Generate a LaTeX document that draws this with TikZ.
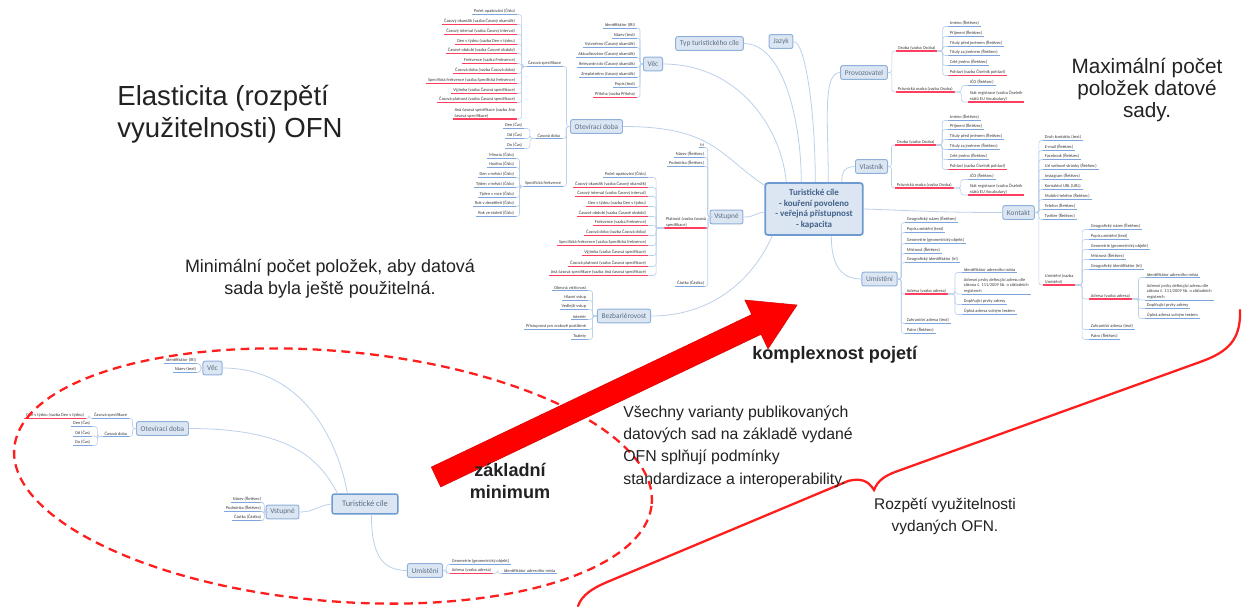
\documentclass[tikz,border=0pt]{standalone}
\usepackage{fontspec}
\setmainfont{Liberation Sans}
\newfontfamily\mm{Carlito}
\usetikzlibrary{calc}
\definecolor{boxf}{HTML}{DCE6F2}
\definecolor{boxb}{HTML}{8EB0DA}
\definecolor{boxt}{HTML}{5A6E86}
\definecolor{ctrb}{HTML}{6D9BD1}
\definecolor{ctrt}{HTML}{42618A}
\definecolor{lnkc}{HTML}{BCD0EA}
\definecolor{ulb}{HTML}{7EA6DC}
\definecolor{ulr}{HTML}{FF3D5E}
\definecolor{leaft}{HTML}{3A3A3A}
\definecolor{bigt}{HTML}{222222}
\definecolor{redm}{HTML}{FF1E1E}

% leaf growing to the left: name, right end x, underline y, text, underline style, parent anchor
\newcommand\leafL[6]{%
  \node[leaf,anchor=south east] (#1) at (#2,#3) {#4};
  \draw[#5] (#1.south west) -- (#1.south east);
  \draw[lnk] let \p1=(#6), \p2=(#1.south east) in
    (\p1) -- ({(\x1+\x2)/2},\y1) -- ({(\x1+\x2)/2},\y2) -- (\p2);}
% leaf growing to the right: name, left end x, underline y, text, underline style, parent anchor
\newcommand\leafR[6]{%
  \node[leaf,anchor=south west] (#1) at (#2,#3) {#4};
  \draw[#5] (#1.south west) -- (#1.south east);
  \draw[lnk] let \p1=(#6), \p2=(#1.south west) in
    (\p1) -- ({(\x1+\x2)/2},\y1) -- ({(\x1+\x2)/2},\y2) -- (\p2);}

\begin{document}
\begin{tikzpicture}[x=0.02cm,y=-0.02cm,
  box/.style={draw=boxb, fill=boxf, rounded corners=1.2pt, line width=0.55pt,
    font=\mm\fontsize{4.2pt}{5pt}\selectfont, text=boxt, inner xsep=2.4pt,
    inner ysep=0pt, minimum height=7.9pt},
  ctrbox/.style={draw=ctrb, fill=boxf, rounded corners=1.5pt, line width=1pt,
    font=\mm\bfseries\fontsize{5.1pt}{6pt}\selectfont, text=ctrt, align=center,
    minimum width=55.6pt, minimum height=29.5pt},
  leaf/.style={font=\mm\fontsize{2.5pt}{3.1pt}\selectfont, text=leaft,
    inner xsep=0.9pt, inner ysep=0.5pt, align=left},
  lnk/.style={draw=lnkc, line width=0.35pt, rounded corners=1.5pt},
  lnkm/.style={draw=lnkc, line width=0.45pt},
  ub/.style={draw=ulb, line width=0.55pt},
  ur/.style={draw=ulr, line width=0.6pt},
  bigtext/.style={text=bigt, inner sep=0pt},
]
\useasboundingbox (0,0) rectangle (1243,613);
\fill[white] (0,0) rectangle (1243,613);

% ---------------- large mind map ----------------
\node[ctrbox] (ctr) at (814,209) {Turistické cíle\\- kouření povoleno\\- veřejná přístupnost\\- kapacita};
\node[box] (vec)   at (653,64)    {Věc};
\node[box] (typ)   at (709.5,43.5) {Typ turistického cíle};
\node[box] (jaz)   at (781,41.5)  {Jazyk};
\node[box] (prov)  at (864,72.5)  {Provozovatel};
\node[box] (otev)  at (596.5,126.5) {Otevírací doba};
\node[box] (vlas)  at (871.5,166.5) {Vlastník};
\node[box] (vstup) at (726.5,217) {Vstupné};
\node[box] (kont)  at (1018.5,212.5) {Kontakt};
\node[box] (umis)  at (879.5,279) {Umístění};
\node[box] (bezb)  at (624,316)   {Bezbariérovost};

\draw[lnkm] (vec.east) .. controls +(75,0) and +(-5,-55) .. ($(ctr.north west)+(22,0)$);
\draw[lnkm] (typ.east) .. controls +(40,0) and +(0,-60) .. ($(ctr.north west)+(37,0)$);
\draw[lnkm] (jaz.east) .. controls +(12,0) and +(0,-70) .. ($(ctr.north west)+(51,0)$);
\draw[lnkm] (prov.west) .. controls +(-18,0) and +(0,-60) .. ($(ctr.north west)+(64,0)$);
\draw[lnkm] (otev.east) .. controls +(90,0) and +(-45,-30) .. ($(ctr.north west)+(0,3)$);
\draw[lnkm] (vstup.east) .. controls +(12,0) and +(-12,2) .. ($(ctr.west)+(0,3)$);
\draw[lnkm] (vlas.west) .. controls +(-12,0) and +(0,-8) .. ($(ctr.north east)+(-22,0)$);
\draw[lnkm] (ctr.east) .. controls +(60,2) and +(-60,0) .. (kont.west);
\draw[lnkm] ($(ctr.south west)+(67,0)$) .. controls +(0,30) and +(-20,0) .. (umis.west);
\draw[lnkm] ($(ctr.south west)+(8,0)$) .. controls +(-20,45) and +(60,0) .. (bezb.east);

% Věc
\leafL{v1}{637}{28}{Identifikátor (IRI)}{ub}{vec.west}
\leafL{v2}{637}{38}{Název (text)}{ub}{vec.west}
\leafL{v3}{637}{47.5}{Vytvořeno (Časový okamžik)}{ub}{vec.west}
\leafL{v4}{637}{57.5}{Aktualizováno (Časový okamžik)}{ub}{vec.west}
\leafL{v5}{637}{67.5}{Relevantní do (Časový okamžik)}{ub}{vec.west}
\leafL{v6}{637}{77.5}{Zneplatněno (časový okamžik)}{ub}{vec.west}
\leafL{v7}{637}{87.5}{Popis (text)}{ub}{vec.west}
\leafL{v8}{637}{97.5}{Příloha (vazba Příloha)}{ur}{vec.west}

% Otevírací doba
\leafL{cs}{563}{66.5}{Časová specifikace}{ub}{otev.west}
\leafL{cd}{562}{138.5}{Časová doba}{ub}{otev.west}
\leafL{sf}{563}{186.5}{Specifická frekvence}{ub}{otev.west}

\leafL{cs1}{517}{14.5}{Počet opakování (Číslo)}{ub}{cs.south west}
\leafL{cs2}{517}{24.5}{Časový okamžik (vazba Časový okamžik)}{ur}{cs.south west}
\leafL{cs3}{517}{34.5}{Časový interval (vazba Časový interval)}{ur}{cs.south west}
\leafL{cs4}{517}{44.5}{Den v týdnu (vazba Den v týdnu)}{ur}{cs.south west}
\leafL{cs5}{517}{53.5}{Časové období (vazba Časové období)}{ur}{cs.south west}
\leafL{cs6}{517}{63.5}{Frekvence (vazba Frekvence)}{ur}{cs.south west}
\leafL{cs7}{517}{73.5}{Časová doba (vazba Časová doba)}{ur}{cs.south west}
\leafL{cs8}{517}{83.5}{Specifická frekvence (vazba Specifická frekvence)}{ur}{cs.south west}
\leafL{cs9}{517}{93.5}{Výjimka (vazba Časová specifikace)}{ur}{cs.south west}
\leafL{cs10}{517}{102.5}{Časová platnost (vazba Časová specifikace)}{ur}{cs.south west}
\leafL{cs11}{517}{119}{Jiná časová specifikace (vazba Jiná\\časová specifikace)}{ur}{cs.south west}

\leafL{cd1}{524}{128.5}{Den (Čas)}{ub}{cd.south west}
\leafL{cd2}{524}{138.5}{Od (Čas)}{ub}{cd.south west}
\leafL{cd3}{524}{148.5}{Do (Čas)}{ub}{cd.south west}

\leafL{sf1}{516}{158.5}{Minuta (Číslo)}{ub}{sf.south west}
\leafL{sf2}{516}{167.5}{Hodina (Číslo)}{ub}{sf.south west}
\leafL{sf3}{516}{177.5}{Den v měsíci (Číslo)}{ub}{sf.south west}
\leafL{sf4}{516}{187.5}{Týden v měsíci (Číslo)}{ub}{sf.south west}
\leafL{sf5}{516}{197.5}{Týden v roce (Číslo)}{ub}{sf.south west}
\leafL{sf6}{516}{206.5}{Rok v desetiletí (Číslo)}{ub}{sf.south west}
\leafL{sf7}{516}{216.5}{Rok ve století (Číslo)}{ub}{sf.south west}

% Vstupné
\leafL{vs0}{706}{147.5}{Iri}{ub}{vstup.west}
\leafL{vs1}{706}{157.5}{Název (Řetězec)}{ub}{vstup.west}
\leafL{vs2}{706}{166.5}{Podmínka (Řetězec)}{ub}{vstup.west}
\leafL{vs3}{708}{228}{Platnost (vazba časová\\specifikace)}{ur}{vstup.west}
\leafL{vs4}{706}{286.5}{Částka (Částka)}{ub}{vstup.west}

\leafL{pl1}{648}{177.5}{Počet opakování (Číslo)}{ub}{vs3.south west}
\leafL{pl2}{648}{187.5}{Časový okamžik (vazba Časový okamžik)}{ur}{vs3.south west}
\leafL{pl3}{648}{196.5}{Časový interval (vazba Časový interval)}{ur}{vs3.south west}
\leafL{pl4}{648}{206.5}{Den v týdnu (vazba Den v týdnu)}{ur}{vs3.south west}
\leafL{pl5}{648}{216.5}{Časové období (vazba Časové období)}{ur}{vs3.south west}
\leafL{pl6}{648}{225.5}{Frekvence (vazba Frekvence)}{ur}{vs3.south west}
\leafL{pl7}{648}{235.5}{Časová doba (vazba Časová doba)}{ur}{vs3.south west}
\leafL{pl8}{648}{245.5}{Specifická frekvence (vazba Specifická frekvence)}{ur}{vs3.south west}
\leafL{pl9}{648}{255.5}{Výjimka (vazba Časová specifikace)}{ur}{vs3.south west}
\leafL{pl10}{648}{266.5}{Časová platnost (vazba Časová specifikace)}{ur}{vs3.south west}
\leafL{pl11}{648}{275.5}{Jiná časová specifikace (vazba Jiná časová specifikace)}{ur}{vs3.south west}

% Bezbariérovost
\leafL{b1}{588}{290.5}{Obecná vstřícnost}{ub}{bezb.west}
\leafL{b2}{588}{300.5}{Hlavní vstup}{ub}{bezb.west}
\leafL{b3}{588}{309.5}{Vedlejší vstup}{ub}{bezb.west}
\leafL{b4}{588}{319.5}{Interiér}{ub}{bezb.west}
\leafL{b5}{588}{329.5}{Přístupnost pro zrakově postižené}{ub}{bezb.west}
\leafL{b6}{588}{339.5}{Toalety}{ub}{bezb.west}

% Provozovatel
\leafR{po}{896}{51}{Osoba (vazba Osoba)}{ur}{prov.east}
\leafR{pp}{896}{92}{Právnická osoba (vazba Osoba)}{ur}{prov.east}
\leafR{po1}{948}{26.5}{Jméno (Řetězec)}{ub}{po.south east}
\leafR{po2}{948}{36.5}{Příjmení (Řetězec)}{ub}{po.south east}
\leafR{po3}{948}{46.5}{Tituly před jménem (Řetězec)}{ub}{po.south east}
\leafR{po4}{948}{55.5}{Tituly za jménem (Řetězec)}{ub}{po.south east}
\leafR{po5}{948}{65.5}{Celé jméno (Řetězec)}{ub}{po.south east}
\leafR{po6}{948}{75.5}{Pohlaví (vazba Číselník pohlaví)}{ur}{po.south east}
\leafR{pp1}{968}{85.5}{IČO (Řetězec)}{ub}{pp.south east}
\leafR{pp2}{968}{102}{Stát registrace (vazba Číselník\\států EU Vocabulary)}{ur}{pp.south east}

% Vlastník
\leafR{lo}{895}{145}{Osoba (vazba Osoba)}{ur}{vlas.east}
\leafR{lp}{895}{188}{Právnická osoba (vazba Osoba)}{ur}{vlas.east}
\leafR{lo1}{948}{120.5}{Jméno (Řetězec)}{ub}{lo.south east}
\leafR{lo2}{948}{129.5}{Příjmení (Řetězec)}{ub}{lo.south east}
\leafR{lo3}{948}{139.5}{Tituly před jménem (Řetězec)}{ub}{lo.south east}
\leafR{lo4}{948}{149.5}{Tituly za jménem (Řetězec)}{ub}{lo.south east}
\leafR{lo5}{948}{159.5}{Celé jméno (Řetězec)}{ub}{lo.south east}
\leafR{lo6}{948}{169.5}{Pohlaví (vazba Číselník pohlaví)}{ur}{lo.south east}
\leafR{lp1}{968}{179.5}{IČO (Řetězec)}{ub}{lp.south east}
\leafR{lp2}{968}{195}{Stát registrace (vazba Číselník\\států EU Vocabulary)}{ur}{lp.south east}

% Kontakt
\leafR{k1}{1043}{140.5}{Druh kontaktu (text)}{ub}{kont.east}
\leafR{k2}{1043}{150.5}{E-mail (Řetězec)}{ub}{kont.east}
\leafR{k3}{1043}{159.5}{Facebook (Řetězec)}{ub}{kont.east}
\leafR{k4}{1043}{169.5}{Url webové stránky (Řetězec)}{ub}{kont.east}
\leafR{k5}{1043}{179.5}{Instagram (Řetězec)}{ub}{kont.east}
\leafR{k6}{1043}{189.5}{Kontaktní URL (URL)}{ub}{kont.east}
\leafR{k7}{1043}{199.5}{Mobilní telefon (Řetězec)}{ub}{kont.east}
\leafR{k8}{1043}{209.5}{Telefon (Řetězec)}{ub}{kont.east}
\leafR{k9}{1043}{219.5}{Twitter (Řetězec)}{ub}{kont.east}
\leafR{ku}{1043}{285}{Umístění (vazba\\Umístění)}{ur}{kont.east}
\leafR{ku1}{1089}{229.5}{Geografický název (Řetězec)}{ub}{ku.south east}
\leafR{ku2}{1089}{239.5}{Popis umístění (text)}{ub}{ku.south east}
\leafR{ku3}{1089}{249.5}{Geometrie (geometrický objekt)}{ub}{ku.south east}
\leafR{ku4}{1089}{259.5}{Místnost (Řetězec)}{ub}{ku.south east}
\leafR{ku5}{1089}{269.5}{Geografický identifikátor (Iri)}{ub}{ku.south east}
\leafR{ka}{1089}{299}{Adresa (vazba adresa)}{ur}{ku.south east}
\leafR{ku7}{1089}{329.5}{Zahraniční adresa (text)}{ub}{ku.south east}
\leafR{ku8}{1089}{339.5}{Patro (Řetězec)}{ub}{ku.south east}
\leafR{ka1}{1145}{277.5}{Identifikátor adresního místa}{ub}{ka.south east}
\leafR{ka2}{1145}{300}{Adresní prvky definující adresu dle\\zákona č. 111/2009 Sb. o základních\\registrech}{ub}{ka.south east}
\leafR{ka3}{1145}{308.5}{Doplňující prvky adresy}{ub}{ka.south east}
\leafR{ka4}{1145}{318.5}{Úplná adresa volným textem}{ub}{ka.south east}

% Umístění
\leafR{u1}{905}{222.5}{Geografický název (Řetězec)}{ub}{umis.east}
\leafR{u2}{905}{232.5}{Popis umístění (text)}{ub}{umis.east}
\leafR{u3}{905}{243.5}{Geometrie (geometrický objekt)}{ub}{umis.east}
\leafR{u4}{905}{253.5}{Místnost (Řetězec)}{ub}{umis.east}
\leafR{u5}{905}{262.5}{Geografický identifikátor (Iri)}{ub}{umis.east}
\leafR{ua}{905}{294}{Adresa (vazba adresa)}{ur}{umis.east}
\leafR{u7}{905}{323.5}{Zahraniční adresa (text)}{ub}{umis.east}
\leafR{u8}{905}{333.5}{Patro (Řetězec)}{ub}{umis.east}
\leafR{ua1}{962}{272.5}{Identifikátor adresního místa}{ub}{ua.south east}
\leafR{ua2}{962}{294}{Adresní prvky definující adresu dle\\zákona č. 111/2009 Sb. o základních\\registrech}{ub}{ua.south east}
\leafR{ua3}{962}{304.5}{Doplňující prvky adresy}{ub}{ua.south east}
\leafR{ua4}{962}{314.5}{Úplná adresa volným textem}{ub}{ua.south east}

% ---------------- small mind map ----------------
\node[box, draw=ctrb, line width=0.8pt, font=\mm\fontsize{4.8pt}{5.6pt}\selectfont,
  minimum width=37.4pt, minimum height=11.3pt] (st) at (365,504) {Turistické cíle};
\node[box] (sv) at (212.5,368) {Věc};
\node[box] (so) at (162.5,428.5) {Otevírací doba};
\node[box] (ss) at (282.5,512) {Vstupné};
\node[box] (su) at (425,570.5) {Umístění};

\draw[lnkm] (sv.east) .. controls +(85,0) and +(-8,-45) .. ($(st.north west)+(16,0)$);
\draw[lnkm] (so.east) .. controls +(100,0) and +(-18,-35) .. ($(st.north west)+(6,0)$);
\draw[lnkm] (ss.east) .. controls +(15,0) and +(-15,2) .. (st.west);
\draw[lnkm] ($(st.south west)+(40,0)$) .. controls +(0,40) and +(-25,0) .. (su.west);

\leafL{sv1}{198}{363.5}{Identifikátor (IRI)}{ub}{sv.west}
\leafL{sv2}{198}{372.5}{Název (text)}{ub}{sv.west}
\leafL{scs}{129}{418.5}{Časová specifikace}{ub}{so.west}
\leafL{scd}{129}{436.5}{Časová doba}{ub}{so.west}
\leafL{scs1}{86}{418.5}{Den v týdnu (vazba Den v týdnu)}{ur}{scs.south west}
\leafL{scd1}{92}{426.5}{Den (Čas)}{ub}{scd.south west}
\leafL{scd2}{92}{436}{Od (Čas)}{ub}{scd.south west}
\leafL{scd3}{92}{445.5}{Do (Čas)}{ub}{scd.south west}
\leafL{ss1}{263}{502.5}{Název (Řetězec)}{ub}{ss.west}
\leafL{ss2}{263}{511.5}{Podmínka (Řetězec)}{ub}{ss.west}
\leafL{ss3}{263}{520.5}{Částka (Částka)}{ub}{ss.west}
\leafR{su1}{450}{564.5}{Geometrie (geometrický objekt)}{ub}{su.east}
\leafR{sa}{450}{573.5}{Adresa (vazba adresa)}{ur}{su.east}
\leafR{sa1}{502}{573.5}{Identifikátor adresního místa}{ub}{sa.south east}

% ---------------- red marks ----------------
\draw[redm, line width=1.3pt, dash pattern=on 5pt off 3.2pt, rotate around={-5:(333,476)}]
  (333,476) ellipse [x radius=6.4cm, y radius=2.5cm];

\filldraw[fill=red, draw=red!85!black, line width=0.3pt]
  (431.3,467.1) -- (751.7,314.5) -- (744.8,300.0) -- (797,305) -- (768.0,348.8)
  -- (761.1,334.3) -- (440.7,486.9) -- cycle;

\draw[redm, line width=1.3pt, line cap=round]
  (1240,310) .. controls (1241,340) and (1228,352) .. (1200,362)
  -- (895,472) .. controls (885,476) and (878,480) .. (874,490)
  .. controls (868,480) and (860,478) .. (848,481)
  -- (612,580) .. controls (592,588) and (582,595) .. (578,606);

% ---------------- captions ----------------
\node[bigtext, anchor=west, align=left, font=\fontsize{15.7pt}{18.1pt}\selectfont]
  (title) at (117,114) {Elasticita (rozpětí\\využitelnosti) OFN};
\node[bigtext, align=center, font=\fontsize{11.8pt}{12.6pt}\selectfont]
  (maxt) at (1147,90) {Maximální počet\\položek datové\\sady.};
\node[bigtext, align=center, font=\fontsize{10.2pt}{12.5pt}\selectfont]
  (mint) at (330,279) {Minimální počet položek, aby datová\\sada byla ještě použitelná.};
\node[bigtext, anchor=west, font=\bfseries\fontsize{10.3pt}{12.5pt}\selectfont]
  (kompl) at (752,355) {komplexnost pojetí};
\node[bigtext, align=center, font=\bfseries\fontsize{10.3pt}{12.5pt}\selectfont]
  (zakl) at (510,481) {základní\\minimum};
\node[bigtext, anchor=west, align=left, font=\fontsize{9pt}{12.75pt}\selectfont]
  (vsech) at (623,446.5) {Všechny varianty publikovaných\\datových sad na základě vydané\\OFN splňují podmínky\\standardizace a interoperability.};
\node[bigtext, align=center, font=\fontsize{8.8pt}{12.5pt}\selectfont]
  (rozp) at (945,516) {Rozpětí využitelnosti\\vydaných OFN.};
\end{tikzpicture}
\end{document}
